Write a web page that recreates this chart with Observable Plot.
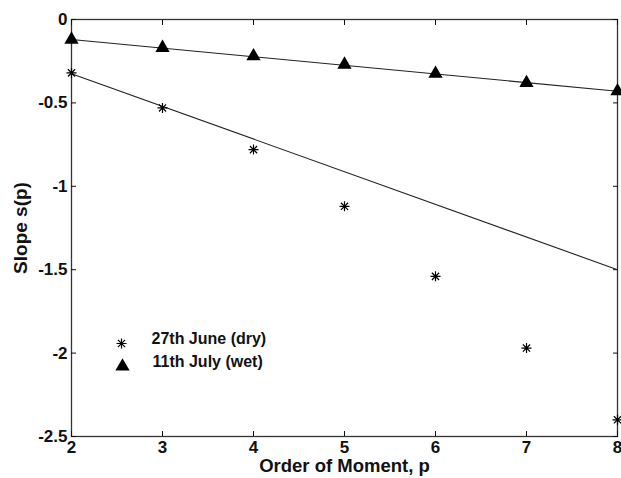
<!DOCTYPE html>
<html>
<head>
<meta charset="utf-8">
<script src="https://cdn.jsdelivr.net/npm/d3@7"></script>
<script src="https://cdn.jsdelivr.net/npm/@observablehq/plot@0.6"></script>
<style>
  html, body { margin: 0; padding: 0; background: #fff; }
  #chart { width: 621px; height: 478px; }
</style>
</head>
<body>
<div id="chart"></div>
<script>
const orders = [2, 3, 4, 5, 6, 7, 8];
const dryValues = [-0.32, -0.53, -0.78, -1.12, -1.54, -1.97, -2.40];
const wetValues = [-0.12, -0.17, -0.22, -0.27, -0.325, -0.38, -0.43];
const dryLineX = [2, 8];
const dryLineY = [-0.325, -1.50];
const wetLineX = [2, 8];
const wetLineY = [-0.12, -0.43];
const xTicks = [2, 3, 4, 5, 6, 7, 8];
const yTicks = [0, -0.5, -1, -1.5, -2, -2.5];
const legendLabels = ["27th June (dry)", "11th July (wet)"];

const dry = orders.map((p, i) => ({p, s: dryValues[i]}));
const wet = orders.map((p, i) => ({p, s: wetValues[i]}));
const dryLine = dryLineX.map((p, i) => ({p, s: dryLineY[i]}));
const wetLine = wetLineX.map((p, i) => ({p, s: wetLineY[i]}));

// MATLAB-like 8-armed asterisk
const star = {
  draw(context, size) {
    const r = Math.sqrt(size / Math.PI);
    const d = r * 0.72;
    context.moveTo(-r, 0); context.lineTo(r, 0);
    context.moveTo(0, -r); context.lineTo(0, r);
    context.moveTo(-d, -d); context.lineTo(d, d);
    context.moveTo(-d, d); context.lineTo(d, -d);
  }
};

const fontNarrow = "'Liberation Sans Narrow', 'Arial Narrow', 'Liberation Sans', Arial, sans-serif";
const fontBold = "'Liberation Sans', Arial, sans-serif";

const chart = Plot.plot({
  width: 621,
  height: 478,
  marginLeft: 71,
  marginRight: 4,
  marginTop: 19,
  marginBottom: 42,
  style: {fontFamily: fontNarrow, fontSize: "17px", fontWeight: "bold", color: "#111", background: "#fff", overflow: "visible"},
  x: {domain: [2, 8]},
  y: {domain: [-2.5, 0]},
  marks: [
    Plot.frame({stroke: "#333", strokeWidth: 1.3}),
    Plot.axisX({ticks: xTicks, tickSize: -5, tickPadding: 9, tickFormat: d => String(d), label: null, fontSize: 17}),
    Plot.axisX({anchor: "top", ticks: xTicks, tickSize: -5, tickFormat: () => "", label: null}),
    Plot.axisY({ticks: yTicks, tickSize: -5, tickPadding: 9, tickFormat: d => String(d), label: null, fontSize: 17}),
    Plot.axisY({anchor: "right", ticks: yTicks, tickSize: -5, tickFormat: () => "", label: null}),
    Plot.text(["Order of Moment, p"], {frameAnchor: "bottom", textAnchor: "middle", dy: 30, fontFamily: fontBold, fontSize: 18.5, fontWeight: "bold", lineAnchor: "middle"}),
    Plot.text(["Slope s(p)"], {frameAnchor: "left", textAnchor: "middle", lineAnchor: "middle", dx: -51, rotate: -90, fontFamily: fontBold, fontSize: 19, fontWeight: "bold"}),
    Plot.line(wetLine, {x: "p", y: "s", stroke: "#222", strokeWidth: 1.1}),
    Plot.line(dryLine, {x: "p", y: "s", stroke: "#222", strokeWidth: 1.1}),
    Plot.dot(wet, {x: "p", y: "s", symbol: "triangle", r: 5.3, fill: "#000", stroke: "none"}),
    Plot.dot(dry, {x: "p", y: "s", symbol: star, r: 5, stroke: "#000", fill: "none", strokeWidth: 1.2}),
    Plot.dot([legendLabels[0]], {frameAnchor: "bottom-left", dx: 50, dy: -93, symbol: star, r: 5, stroke: "#000", fill: "none", strokeWidth: 1.2}),
    Plot.dot([legendLabels[1]], {frameAnchor: "bottom-left", dx: 51, dy: -70, symbol: "triangle", r: 5.3, fill: "#000", stroke: "none"}),
    Plot.text([legendLabels[0]], {frameAnchor: "bottom-left", dx: 80, dy: -93, textAnchor: "start", fontFamily: fontBold, fontSize: 16, fontWeight: "bold"}),
    Plot.text([legendLabels[1]], {frameAnchor: "bottom-left", dx: 81, dy: -70, textAnchor: "start", fontFamily: fontBold, fontSize: 16, fontWeight: "bold"})
  ]
});
document.getElementById("chart").appendChild(chart);
</script>
</body>
</html>
